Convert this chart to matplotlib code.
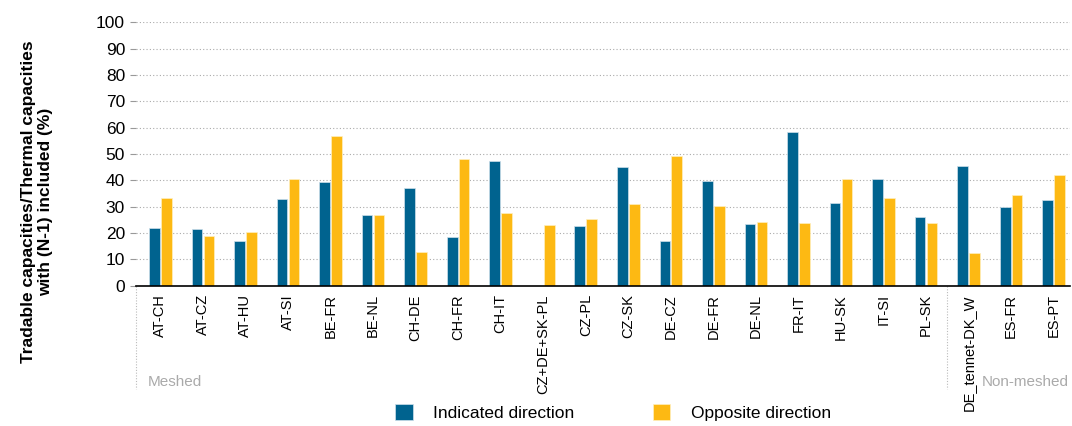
import matplotlib
matplotlib.use("Agg")
import matplotlib.pyplot as plt
import matplotlib.transforms as mtransforms
import numpy as np

plt.rcParams['font.family'] = ['Liberation Sans', 'DejaVu Sans']

# borders
borders = ["AT-CH", "AT-CZ", "AT-HU", "AT-SI", "BE-FR", "BE-NL", "CH-DE", "CH-FR",
           "CH-IT", "CZ+DE+SK-PL", "CZ-PL", "CZ-SK", "DE-CZ", "DE-FR", "DE-NL",
           "FR-IT", "HU-SK", "IT-SI", "PL-SK", "DE_tennet-DK_W", "ES-FR", "ES-PT"]
indicated = [21.8, 21.4, 17.1, 33.0, 39.2, 26.9, 37.0, 18.4, 47.4, 0.0, 22.7,
             45.1, 17.1, 39.7, 23.4, 58.3, 31.6, 40.6, 26.1, 45.6, 29.9, 32.4]
opposite = [33.3, 18.9, 20.5, 40.6, 56.7, 26.9, 12.9, 48.2, 27.8, 23.1, 25.2,
            31.2, 49.4, 30.3, 24.3, 24.0, 40.6, 33.3, 24.0, 12.4, 34.6, 42.2]
n_meshed = 19

blue = "#00638F"
yellow = "#FDB913"

fig = plt.figure(figsize=(10.72, 4.26), dpi=100)
ax = fig.add_axes([0.127, 0.329, 0.871, 0.619])

x = np.arange(len(borders))
w = 0.25
ax.bar(x - 0.14, indicated, w, color=blue, edgecolor="#cfe0ea", linewidth=0.5,
       label="Indicated direction", zorder=3)
ax.bar(x + 0.14, opposite, w, color=yellow, edgecolor="#fff0c0", linewidth=0.5,
       label="Opposite direction", zorder=3)

ax.set_xlim(-0.57, len(borders) - 1 + 0.38)
ax.set_ylim(0, 100)
ax.set_yticks(range(0, 101, 10))
ax.tick_params(axis='y', labelsize=12.5, length=4, width=0.8, color="#999999", pad=4)
ax.set_xticks(x)
ax.set_xticklabels(borders, rotation=90, fontsize=10.5)
ax.tick_params(axis='x', length=0, pad=6)
ax.grid(axis='y', linestyle=(0, (1, 2)), color="#aaaaaa", linewidth=0.8, zorder=0)

for s in ["top", "right", "left"]:
    ax.spines[s].set_visible(False)
ax.spines["bottom"].set_color("black")
ax.spines["bottom"].set_linewidth(1.2)
ax.spines["bottom"].set_zorder(4)

ax.set_ylabel("Tradable capacities/Thermal capacities\nwith (N-1) included (%)",
              fontsize=12.5, fontweight="bold")
ax.yaxis.set_label_coords(-0.089, 0.32)

# group separators below the axis
trans = mtransforms.blended_transform_factory(ax.transData, ax.transAxes)
for xs in [-0.57, n_meshed - 0.5]:
    ax.plot([xs, xs], [0, -0.39], transform=trans, clip_on=False,
            color="#bbbbbb", linestyle=(0, (1, 1.5)), linewidth=0.8)
ax.text(-0.3, -0.365, "Meshed", transform=trans, fontsize=11, color="#aaaaaa",
        va="center", ha="left")
ax.text(len(borders) - 1 + 0.36, -0.365, "Non-meshed", transform=trans, fontsize=11,
        color="#aaaaaa", va="center", ha="right")

fig.legend(loc="lower center", bbox_to_anchor=(0.572, -0.025), ncol=2, frameon=False,
           fontsize=12.5, handlelength=1.0, handleheight=1.0, columnspacing=4.5,
           handletextpad=1.2)

fig.savefig("out.png", dpi=100)
